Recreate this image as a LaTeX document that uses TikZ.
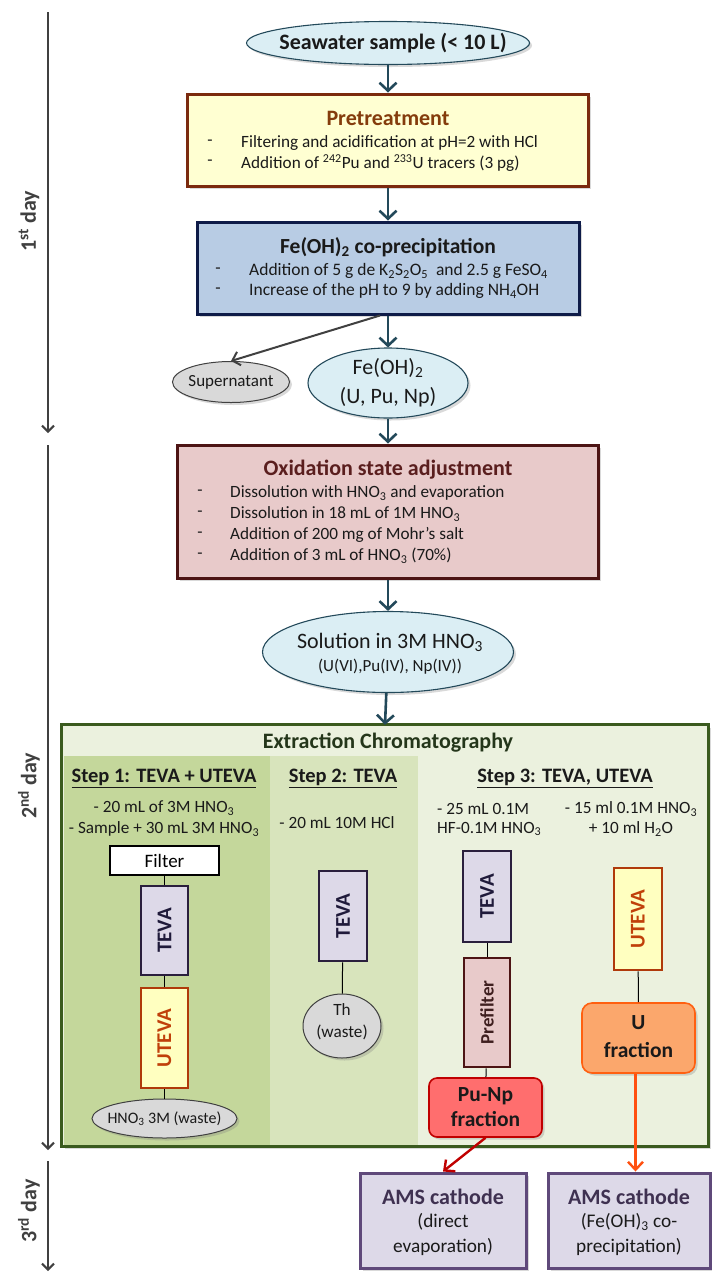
\documentclass[tikz,border=0pt]{standalone}
\usepackage{fontspec}
\setmainfont{Carlito}
\usetikzlibrary{arrows.meta,shapes.geometric,shadows}
\definecolor{flowc}{HTML}{23495A}
\definecolor{ellfill}{HTML}{DBEEF4}
\definecolor{preFill}{HTML}{FFFFD2}
\definecolor{preLine}{HTML}{7B2A0E}
\definecolor{preTitle}{HTML}{843C0C}
\definecolor{feFill}{HTML}{B8CCE4}
\definecolor{feLine}{HTML}{0E1B48}
\definecolor{oxFill}{HTML}{E8CACA}
\definecolor{oxLine}{HTML}{4D1414}
\definecolor{oxTitle}{HTML}{5A1E1E}
\definecolor{extLine}{HTML}{3A5A1E}
\definecolor{extFill}{HTML}{EBF1DE}
\definecolor{pOneFill}{HTML}{C4D79B}
\definecolor{pTwoFill}{HTML}{D8E4BC}
\definecolor{extTitle}{HTML}{24361A}
\definecolor{tevaFill}{HTML}{DDD9E8}
\definecolor{tevaLine}{HTML}{2A1F3D}
\definecolor{tevaText}{HTML}{1F1A3A}
\definecolor{utevaFill}{HTML}{FFFFC0}
\definecolor{utevaLine}{HTML}{B03A0A}
\definecolor{utevaText}{HTML}{C0400A}
\definecolor{prefText}{HTML}{3F1F1F}
\definecolor{punpFill}{HTML}{FF6E6E}
\definecolor{punpLine}{HTML}{C00000}
\definecolor{ufFill}{HTML}{FBA76C}
\definecolor{ufLine}{HTML}{FF6010}
\definecolor{amsLine}{HTML}{5F497A}
\definecolor{amsTitle}{HTML}{3F3151}
\definecolor{grayFill}{HTML}{D9D9D9}
\definecolor{grayLine}{HTML}{404040}
\definecolor{dayc}{HTML}{404040}
\definecolor{uArrow}{HTML}{FF5010}
\definecolor{txtc}{HTML}{1A1A1A}
\begin{document}
\begin{tikzpicture}[x=1pt,y=-1pt,
  fs/.style={font=\fontsize{#1}{#1}\selectfont},
  txt/.style={inner sep=0pt,text=txtc},
  shad/.style={drop shadow={shadow xshift=2.5pt,shadow yshift=-2.5pt,opacity=0.3}},
  bigbox/.style={draw,rectangle,line width=3pt,inner sep=0pt,shad},
  ell/.style={draw=flowc,fill=ellfill,ellipse,line width=1.1pt,inner sep=0pt,shad},
  grayell/.style={draw=grayLine,fill=grayFill,ellipse,line width=1pt,inner sep=0pt,shad},
  col/.style={draw,rectangle,line width=2.6pt,inner sep=0pt,rotate=90,font=\bfseries\fontsize{21}{21}\selectfont},
  frac/.style={draw,rectangle,rounded corners=8pt,line width=1.6pt,inner sep=0pt,align=center,shad},
  amsbox/.style={draw=amsLine,fill=tevaFill,rectangle,line width=3pt,inner sep=0pt,shad},
  amstxt/.style={inner sep=0pt,align=center,text=txtc,font=\fontsize{19.3}{25}\selectfont},
  flow/.style={draw=flowc,line width=2.6pt,-{Straight Barb[length=8pt,width=17pt]}},
  dayarrow/.style={draw=dayc,line width=2pt,-{Straight Barb[length=6pt,width=12pt]}},
  link/.style={draw=black,line width=1pt},
  daylbl/.style={inner sep=0pt,text=dayc,rotate=90,font=\bfseries\fontsize{22}{22}\selectfont}
]
\useasboundingbox (0,0) rectangle (712,1275);

% ---------- day arrows ----------
\coordinate (d1s) at (48,12);   \coordinate (d1e) at (48,433);
\coordinate (d2s) at (48,445);  \coordinate (d2e) at (48,1150);
\coordinate (d3s) at (48,1161); \coordinate (d3e) at (48,1271);
\draw[dayarrow] (d1s) -- (d1e);
\draw[dayarrow] (d2s) -- (d2e);
\draw[dayarrow] (d3s) -- (d3e);
\node[daylbl] (day1) at (29,221) {1\textsuperscript{st} day};
\node[daylbl] (day2) at (29,786) {2\textsuperscript{nd} day};
\node[daylbl] (day3) at (29,1211) {3\textsuperscript{rd} day};

% ---------- seawater ----------
\node[ell,minimum width=283,minimum height=43] (sea) at (388,43) {};
\node[txt,font=\bfseries\fontsize{22}{22}\selectfont] (seaT) at (393,43) {Seawater sample (< 10 L)};

% ---------- pretreatment ----------
\node[bigbox,draw=preLine,fill=preFill,minimum width=401,minimum height=92] (pre) at (388,140) {};
\node[txt,text=preTitle,font=\bfseries\fontsize{22}{22}\selectfont] (preT) at (388,118) {Pretreatment};
\node[txt,fs=17.2] (preD1) at (210,143) {-};
\node[txt,fs=17.2,anchor=west] (preL1) at (241,143) {Filtering and acidification at pH=2 with HCl};
\node[txt,fs=17.2] (preD2) at (210,163) {-};
\node[txt,fs=17.2,anchor=west] (preL2) at (241,163) {Addition of \textsuperscript{242}Pu and \textsuperscript{233}U tracers (3 pg)};

% ---------- Fe(OH)2 co-precipitation ----------
\node[bigbox,draw=feLine,fill=feFill,minimum width=382,minimum height=92] (fe) at (388,268) {};
\node[txt,font=\bfseries\fontsize{21.5}{21.5}\selectfont] (feT) at (388,247) {Fe(OH)\textsubscript{2} co-precipitation};
\node[txt,fs=17.5] (feD1) at (218,271) {-};
\node[txt,fs=17.5,anchor=west] (feL1) at (249,271) {Addition of 5 g de K\textsubscript{2}S\textsubscript{2}O\textsubscript{5}\ \ and 2.5 g FeSO\textsubscript{4}};
\node[txt,fs=17.5] (feD2) at (218,291) {-};
\node[txt,fs=17.5,anchor=west] (feL2) at (249,291) {Increase of the pH to 9 by adding NH\textsubscript{4}OH};

% ---------- supernatant / Fe(OH)2 ----------
\node[grayell,minimum width=117,minimum height=41] (sup) at (231,382) {};
\node[txt,fs=17] (supT) at (231,382) {Supernatant};
\node[ell,minimum width=160,minimum height=70] (feo) at (388,383) {};
\node[txt,align=center,font=\fontsize{22}{29}\selectfont] (feoT) at (388,383) {Fe(OH)\textsubscript{2}\\(U, Pu, Np)};

% ---------- oxidation ----------
\node[bigbox,draw=oxLine,fill=oxFill,minimum width=421,minimum height=133] (ox) at (388,511.5) {};
\node[txt,text=oxTitle,font=\bfseries\fontsize{22}{22}\selectfont] (oxT) at (388,470) {Oxidation state adjustment};
\node[txt,fs=17.2] (oxD1) at (200,493) {-};
\node[txt,fs=17.2,anchor=west] (oxL1) at (230,493) {Dissolution with HNO\textsubscript{3} and evaporation};
\node[txt,fs=17.2] (oxD2) at (200,514) {-};
\node[txt,fs=17.2,anchor=west] (oxL2) at (230,514) {Dissolution in 18 mL of 1M HNO\textsubscript{3}};
\node[txt,fs=17.2] (oxD3) at (200,535) {-};
\node[txt,fs=17.2,anchor=west] (oxL3) at (230,535) {Addition of 200 mg of Mohr’s salt};
\node[txt,fs=17.2] (oxD4) at (200,556) {-};
\node[txt,fs=17.2,anchor=west] (oxL4) at (230,556) {Addition of 3 mL of HNO\textsubscript{3} (70\%)};

% ---------- solution ----------
\node[ell,minimum width=251,minimum height=81] (sol) at (388,652) {};
\node[txt,fs=22] (solA) at (390,642) {Solution in 3M HNO\textsubscript{3}};
\node[txt,fs=17] (solB) at (390,667) {(U(VI),Pu(IV), Np(IV))};

% ---------- extraction chromatography ----------
\node[rectangle,fill=extFill,minimum width=646,minimum height=421,inner sep=0pt,shad] (ext) at (385,935.5) {};
\node[rectangle,fill=pOneFill,minimum width=206,minimum height=389,inner sep=0pt] (pan1) at (167,950) {};
\node[rectangle,fill=pTwoFill,minimum width=148,minimum height=389,inner sep=0pt] (pan2) at (344,950) {};
\draw[draw=extLine,line width=3pt] (ext.north west) rectangle (ext.south east);
\node[txt,text=extTitle,font=\bfseries\fontsize{22}{22}\selectfont] (extT) at (388,743) {Extraction Chromatography};

\node[txt,font=\bfseries\fontsize{20.5}{20.5}\selectfont] (s1h) at (164,778) {\underline{Step 1: TEVA + UTEVA}};
\node[txt,font=\bfseries\fontsize{20.5}{20.5}\selectfont] (s2h) at (343,778) {\underline{Step 2: TEVA}};
\node[txt,font=\bfseries\fontsize{20.5}{20.5}\selectfont] (s3h) at (565,778) {\underline{Step 3: TEVA, UTEVA}};

\node[txt,fs=17.2] (s1a) at (164,808) {- 20 mL of 3M HNO\textsubscript{3}};
\node[txt,fs=17.2] (s1b) at (164,829) {- Sample + 30 mL 3M HNO\textsubscript{3}};
\node[txt,fs=17.2] (s2a) at (337,823) {- 20 mL 10M HCl};
\node[txt,fs=17.2,anchor=west] (s3a) at (437,809) {- 25 mL 0.1M};
\node[txt,fs=17.2,anchor=west] (s3b) at (437,829) {HF-0.1M HNO\textsubscript{3}};
\node[txt,fs=17.2] (s3c) at (631,809) {- 15 ml 0.1M HNO\textsubscript{3}};
\node[txt,fs=17.2] (s3d) at (631,829) {+ 10 ml H\textsubscript{2}O};

% step 1 column
\node[draw=black,fill=white,rectangle,line width=2.8pt,minimum width=109,minimum height=29,inner sep=0pt,font=\fontsize{19}{19}\selectfont] (filt) at (164.5,860.5) {Filter};
\node[col,draw=tevaLine,fill=tevaFill,text=tevaText,minimum width=89,minimum height=47] (teva1) at (164.5,930.5) {TEVA};
\node[col,draw=utevaLine,fill=utevaFill,text=utevaText,minimum width=100,minimum height=47] (uteva1) at (164.5,1038) {UTEVA};
\node[grayell,minimum width=145,minimum height=39] (w1) at (164.5,1118.5) {};
\node[txt,fs=16] (w1T) at (164.5,1118.5) {HNO\textsubscript{3} 3M (waste)};
\draw[link] (filt) -- (teva1);
\draw[link] (teva1) -- (uteva1);
\draw[link] (uteva1) -- (w1);

% step 2 column
\node[col,draw=tevaLine,fill=tevaFill,text=tevaText,minimum width=90,minimum height=48] (teva2) at (343,916) {TEVA};
\node[grayell,minimum width=78,minimum height=64] (th) at (342,1026) {};
\node[txt,align=center,font=\fontsize{17.2}{22}\selectfont] (thT) at (342,1022) {Th\\(waste)};
\draw[link] (teva2) -- (th);

% step 3 columns
\node[col,draw=tevaLine,fill=tevaFill,text=tevaText,minimum width=91,minimum height=48] (teva3) at (487,896.5) {TEVA};
\node[col,draw=oxLine,fill=oxFill,text=prefText,minimum width=109,minimum height=46,font=\bfseries\fontsize{19}{19}\selectfont] (pref) at (487,1012.5) {Prefilter};
\node[frac,draw=punpLine,fill=punpFill,minimum width=113,minimum height=59] (punp) at (485.5,1107.5) {};
\node[txt,align=center,font=\bfseries\fontsize{21.5}{25}\selectfont] (punpT) at (485.5,1107.5) {Pu-Np\\fraction};
\draw[link] (teva3) -- (pref);
\draw[link] (pref) -- (punp);

\node[col,draw=utevaLine,fill=utevaFill,text=utevaText,minimum width=102,minimum height=48] (uteva2) at (638,919) {UTEVA};
\node[frac,draw=ufLine,fill=ufFill,minimum width=113,minimum height=70,rounded corners=10pt] (uf) at (638.5,1038) {};
\node[txt,align=center,font=\bfseries\fontsize{21.5}{28}\selectfont] (ufT) at (638.5,1037) {U\\fraction};
\draw[link] (uteva2) -- (uf);

% ---------- AMS cathodes ----------
\node[amsbox,minimum width=166,minimum height=95] (ams1) at (443,1220.5) {};
\node[txt,text=amsTitle,font=\bfseries\fontsize{22}{22}\selectfont] (ams1T) at (443,1197) {AMS cathode};
\node[amstxt] (ams1L) at (443,1234.5) {(direct\\evaporation)};
\node[amsbox,minimum width=162,minimum height=95] (ams2) at (629,1220.5) {};
\node[txt,text=amsTitle,font=\bfseries\fontsize{22}{22}\selectfont] (ams2T) at (629,1197) {AMS cathode};
\node[amstxt] (ams2L) at (629,1234.5) {(Fe(OH)\textsubscript{3} co-\\precipitation)};

% ---------- connectors ----------
\draw[flow] (sea) -- (pre);
\draw[flow] (pre) -- (fe);
\draw[flow] (fe) -- (feo);
\draw[draw=grayLine,line width=2pt,-{Straight Barb[length=7pt,width=14pt]}] ([xshift=-8pt]fe.south) -- (sup.north);
\draw[flow] (feo) -- (ox);
\draw[flow] (ox) -- (sol);
\draw[flow] (sol) -- (ext.north);
\draw[draw=punpLine,line width=2.4pt,-{Straight Barb[length=8pt,width=15pt]}] (punp.south) -- (ams1.north);
\draw[draw=uArrow,line width=2.4pt,-{Straight Barb[length=8pt,width=15pt]}] ([xshift=-3pt]uf.south) -- ([xshift=-3pt]uf.south |- ams2.north);
\end{tikzpicture}
\end{document}
